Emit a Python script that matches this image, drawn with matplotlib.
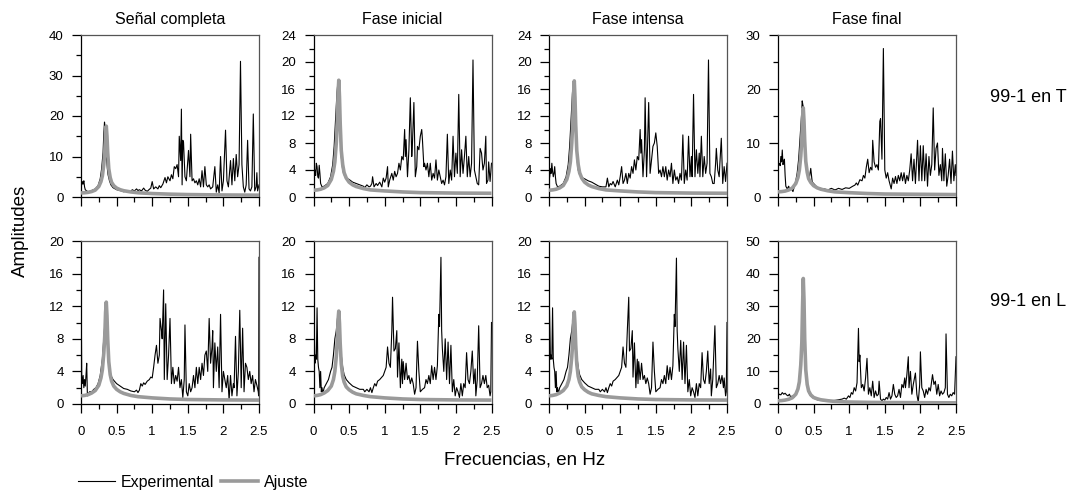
import matplotlib
matplotlib.use("Agg")
import matplotlib.pyplot as plt
from matplotlib.ticker import MultipleLocator
from matplotlib.lines import Line2D

plt.rcParams['font.family'] = ['Liberation Sans', 'DejaVu Sans']

# ---------------- data ----------------
col_titles = ["Señal completa", "Fase inicial", "Fase intensa", "Fase final"]
row_labels = ["99-1 en T", "99-1 en L"]
x_ticks = [0, 0.5, 1, 1.5, 2, 2.5]
x_ticklabels = ["0", "0.5", "1", "1.5", "2", "2.5"]
ymax_T = [40, 24, 24, 30]
ystep_T = [10, 4, 4, 10]
ymax_L = [20, 20, 20, 50]
ystep_L = [4, 4, 4, 10]

# fitted curves (Ajuste), sampled on a common frequency grid
fit_freq = [0, 0.05, 0.1, 0.15, 0.2, 0.25, 0.28, 0.3, 0.32, 0.335, 0.345, 0.355, 0.365, 0.375,
            0.39, 0.41, 0.43, 0.46, 0.5, 0.55, 0.6, 0.7, 0.8, 1.0, 1.25, 1.5, 2.0, 2.5]
fit_T1 = [1.0, 1.05, 1.15, 1.35, 1.7, 2.6, 3.8, 5.2, 8.0, 11.5, 15.5, 17.5, 15.0, 11.0,
          7.0, 4.8, 3.6, 2.8, 2.2, 1.8, 1.55, 1.25, 1.05, 0.85, 0.7, 0.6, 0.5, 0.45]
fit_T2 = [1.0, 1.05, 1.15, 1.35, 1.7, 2.6, 3.8, 5.2, 8.0, 11.4, 15.3, 17.3, 14.8, 10.9,
          6.9, 4.8, 3.6, 2.8, 2.2, 1.8, 1.55, 1.25, 1.05, 0.9, 0.75, 0.65, 0.58, 0.55]
fit_T3 = [1.0, 1.05, 1.15, 1.35, 1.7, 2.6, 3.8, 5.2, 8.0, 11.3, 15.2, 17.2, 14.7, 10.8,
          6.9, 4.8, 3.6, 2.8, 2.2, 1.8, 1.55, 1.25, 1.05, 0.9, 0.75, 0.65, 0.58, 0.55]
fit_T4 = [0.95, 1.0, 1.1, 1.3, 1.65, 2.5, 3.6, 5.0, 7.6, 10.9, 14.6, 16.5, 14.1, 10.4,
          6.6, 4.6, 3.4, 2.7, 2.1, 1.7, 1.45, 1.15, 0.95, 0.8, 0.65, 0.55, 0.5, 0.45]
fit_L1 = [1.0, 1.05, 1.15, 1.35, 1.65, 2.3, 3.2, 4.2, 6.2, 8.5, 11.2, 12.5, 10.8, 8.0,
          5.2, 3.6, 2.8, 2.2, 1.8, 1.5, 1.3, 1.05, 0.9, 0.75, 0.62, 0.55, 0.5, 0.48]
fit_L2 = [1.0, 1.05, 1.15, 1.35, 1.65, 2.2, 3.0, 4.0, 5.8, 7.9, 10.3, 11.4, 9.9, 7.4,
          4.9, 3.4, 2.7, 2.1, 1.75, 1.45, 1.25, 1.05, 0.9, 0.75, 0.62, 0.55, 0.5, 0.48]
fit_L3 = [1.0, 1.05, 1.15, 1.35, 1.65, 2.2, 3.0, 4.0, 5.8, 7.8, 10.2, 11.3, 9.8, 7.3,
          4.9, 3.4, 2.7, 2.1, 1.75, 1.45, 1.25, 1.05, 0.9, 0.75, 0.62, 0.55, 0.5, 0.48]
fit_L4 = [1.0, 1.05, 1.2, 1.45, 1.9, 3.0, 4.6, 6.8, 12.0, 19.0, 30.0, 38.5, 32.0, 20.0,
          10.5, 6.0, 4.0, 2.8, 2.0, 1.6, 1.3, 1.0, 0.8, 0.6, 0.5, 0.45, 0.4, 0.35]

# experimental spectra
freq_T1 = [0.0, 0.01, 0.02, 0.03, 0.04, 0.05, 0.06, 0.08, 0.1, 0.12, 0.15, 0.2, 0.24, 0.27, 0.29,
           0.31, 0.32, 0.33, 0.34, 0.35, 0.36, 0.37, 0.38, 0.40, 0.42, 0.45, 0.5, 0.55, 0.6, 0.65,
           0.7, 0.72, 0.75, 0.78, 0.8, 0.82, 0.85, 0.88, 0.9, 0.93, 0.96, 0.98, 1.0, 1.02, 1.05,
           1.08, 1.1, 1.12, 1.15, 1.18, 1.2, 1.22, 1.25, 1.27, 1.29, 1.31, 1.33, 1.35, 1.37, 1.38,
           1.40, 1.41, 1.42, 1.43, 1.44, 1.46, 1.48, 1.51, 1.53, 1.54, 1.56, 1.58, 1.6, 1.62, 1.64,
           1.66, 1.68, 1.70, 1.72, 1.74, 1.76, 1.78, 1.80, 1.82, 1.85, 1.88, 1.90, 1.92, 1.94, 1.96,
           1.98, 2.0, 2.03, 2.05, 2.07, 2.10, 2.12, 2.14, 2.16, 2.18, 2.20, 2.22, 2.24, 2.26, 2.28,
           2.30, 2.32, 2.34, 2.36, 2.38, 2.40, 2.42, 2.44, 2.46, 2.47, 2.48, 2.5]
amp_T1 = [3.5, 3.0, 3.8, 3.2, 4.0, 2.5, 1.8, 1.5, 1.3, 1.4, 1.6, 2.0, 2.8, 4.5, 7.0,
          11.0, 15.5, 18.5, 17.0, 12.0, 9.5, 7.0, 5.5, 4.0, 3.0, 2.3, 1.8, 1.6, 1.3, 1.5,
          1.4, 1.8, 1.5, 2.0, 1.6, 1.8, 1.5, 2.2, 1.7, 1.4, 1.9, 2.2, 3.8, 2.0, 2.5,
          2.0, 2.8, 2.3, 3.2, 4.8, 3.5, 5.0, 4.0, 5.5, 4.5, 7.5, 7.0, 8.0, 5.0, 15.0,
          9.0, 21.7, 3.0, 14.0, 13.5, 5.0, 4.0, 11.5, 5.0, 15.5, 4.0, 4.5, 3.5, 4.0, 3.0,
          4.5, 2.5, 6.5, 2.5, 7.5, 3.0, 2.5, 3.0, 2.0, 2.5, 7.5, 1.2, 3.0, 1.0, 10.0,
          1.5, 4.0, 16.5, 4.0, 2.5, 9.0, 3.0, 9.5, 4.0, 10.5, 5.0, 8.0, 33.5, 8.0, 2.5,
          1.2, 3.0, 14.0, 2.0, 1.5, 2.5, 20.5, 1.5, 2.5, 6.0, 1.5, 3.0]

freq_T2 = [0.0, 0.01, 0.02, 0.03, 0.04, 0.05, 0.06, 0.07, 0.08, 0.09, 0.1, 0.12, 0.15, 0.2, 0.24,
           0.27, 0.29, 0.31, 0.33, 0.345, 0.355, 0.365, 0.375, 0.39, 0.41, 0.43, 0.46, 0.5, 0.55,
           0.6, 0.65, 0.7, 0.72, 0.75, 0.78, 0.8, 0.82, 0.83, 0.85, 0.88, 0.9, 0.93, 0.96, 0.98,
           1.0, 1.02, 1.04, 1.05, 1.07, 1.1, 1.12, 1.14, 1.16, 1.18, 1.2, 1.22, 1.24, 1.26, 1.28,
           1.29, 1.30, 1.32, 1.34, 1.36, 1.38, 1.39, 1.41, 1.43, 1.45, 1.46, 1.48, 1.50, 1.52,
           1.53, 1.55, 1.56, 1.58, 1.60, 1.62, 1.64, 1.66, 1.68, 1.70, 1.72, 1.74, 1.76, 1.78,
           1.80, 1.82, 1.84, 1.86, 1.88, 1.90, 1.92, 1.94, 1.96, 1.98, 2.0, 2.02, 2.04, 2.06,
           2.08, 2.10, 2.12, 2.14, 2.16, 2.18, 2.20, 2.22, 2.24, 2.26, 2.28, 2.30, 2.32, 2.34,
           2.36, 2.38, 2.40, 2.42, 2.43, 2.45, 2.46, 2.48, 2.5]
amp_T2 = [3.0, 3.5, 4.0, 3.2, 5.0, 4.5, 3.0, 2.8, 4.7, 3.5, 2.0, 1.5, 1.6, 2.0, 3.0,
          4.8, 7.5, 11.5, 15.5, 17.3, 17.0, 12.5, 9.0, 6.0, 4.0, 3.3, 2.8, 2.6, 2.2,
          2.0, 1.8, 1.6, 1.4, 1.8, 1.5, 1.6, 2.0, 3.0, 1.5, 2.0, 1.7, 2.2, 1.5, 2.8,
          2.2, 2.8, 4.5, 1.5, 2.5, 3.5, 2.5, 3.8, 3.0, 3.5, 5.0, 4.0, 6.0, 5.5, 10.0,
          6.0, 8.5, 3.0, 7.0, 14.7, 6.0, 8.0, 14.0, 3.0, 4.5, 7.5, 7.0, 9.0, 10.0,
          8.5, 4.5, 5.0, 4.0, 5.0, 3.0, 5.0, 2.5, 3.5, 2.8, 5.5, 2.5, 4.0, 3.0,
          2.0, 2.5, 1.8, 3.0, 9.3, 2.0, 4.0, 2.5, 9.0, 3.0, 6.5, 3.5, 15.2, 3.0,
          7.0, 3.5, 6.0, 9.0, 3.0, 6.0, 3.0, 5.0, 20.3, 4.0, 3.0, 2.0, 1.8, 7.2,
          6.5, 4.0, 5.0, 9.0, 2.0, 2.5, 5.2, 2.3, 5.0]

freq_T3 = [0.0, 0.01, 0.02, 0.03, 0.04, 0.05, 0.06, 0.07, 0.08, 0.09, 0.1, 0.12, 0.15, 0.2, 0.24,
           0.27, 0.29, 0.31, 0.33, 0.345, 0.355, 0.365, 0.375, 0.39, 0.41, 0.43, 0.46, 0.5, 0.55,
           0.6, 0.65, 0.7, 0.75, 0.8, 0.82, 0.84, 0.86, 0.88, 0.9, 0.93, 0.96, 0.98, 1.0, 1.02,
           1.04, 1.06, 1.08, 1.1, 1.12, 1.14, 1.16, 1.18, 1.2, 1.22, 1.24, 1.26, 1.28, 1.29, 1.30,
           1.32, 1.34, 1.35, 1.37, 1.38, 1.40, 1.42, 1.44, 1.46, 1.48, 1.50, 1.52, 1.54, 1.56,
           1.58, 1.60, 1.62, 1.64, 1.66, 1.68, 1.70, 1.72, 1.74, 1.76, 1.78, 1.80, 1.82, 1.84,
           1.86, 1.88, 1.90, 1.92, 1.94, 1.96, 1.98, 2.0, 2.01, 2.03, 2.05, 2.07, 2.09, 2.11,
           2.12, 2.14, 2.16, 2.18, 2.20, 2.22, 2.24, 2.26, 2.28, 2.30, 2.32, 2.34, 2.35, 2.37,
           2.39, 2.40, 2.42, 2.44, 2.46, 2.48, 2.5]
amp_T3 = [2.5, 3.0, 4.2, 3.5, 5.0, 3.8, 3.0, 3.5, 4.5, 3.0, 2.0, 1.5, 1.6, 2.0, 3.0,
          4.8, 7.5, 11.5, 15.5, 17.2, 16.8, 12.5, 9.0, 6.0, 4.0, 3.3, 2.9, 2.7, 2.4,
          2.2, 1.9, 1.6, 1.5, 1.5, 2.8, 1.5, 2.0, 1.8, 2.3, 1.5, 2.5, 1.8, 3.0, 4.5,
          2.0, 2.5, 3.5, 2.0, 3.5, 2.8, 4.5, 3.5, 5.5, 4.0, 6.0, 5.5, 10.0, 6.5, 8.5,
          3.0, 7.0, 14.7, 3.0, 6.0, 14.0, 3.5, 5.5, 7.5, 8.0, 9.5, 7.5, 3.5, 4.0,
          3.0, 4.5, 3.0, 4.5, 2.5, 4.0, 3.0, 5.0, 2.0, 4.0, 2.5, 3.0, 2.0, 3.5,
          2.5, 9.2, 2.0, 4.0, 2.5, 9.0, 3.0, 6.0, 3.0, 15.2, 3.0, 7.0, 3.5, 6.5,
          3.0, 9.0, 3.0, 6.0, 3.5, 5.0, 20.3, 3.5, 3.0, 2.0, 2.0, 5.0, 7.2, 4.0,
          3.0, 5.0, 8.7, 2.0, 4.5, 2.3, 5.0]

freq_T4 = [0.0, 0.01, 0.02, 0.03, 0.04, 0.05, 0.06, 0.07, 0.08, 0.09, 0.1, 0.11, 0.13, 0.15, 0.17,
           0.19, 0.21, 0.23, 0.25, 0.27, 0.29, 0.31, 0.33, 0.34, 0.35, 0.36, 0.37, 0.38, 0.40,
           0.42, 0.44, 0.46, 0.48, 0.5, 0.55, 0.6, 0.65, 0.7, 0.75, 0.8, 0.85, 0.9, 0.95, 1.0,
           1.05, 1.08, 1.1, 1.12, 1.15, 1.18, 1.2, 1.22, 1.24, 1.26, 1.28, 1.30, 1.32, 1.33, 1.35,
           1.37, 1.39, 1.41, 1.43, 1.44, 1.46, 1.48, 1.50, 1.52, 1.54, 1.56, 1.59, 1.61, 1.63,
           1.65, 1.67, 1.69, 1.71, 1.73, 1.75, 1.77, 1.79, 1.81, 1.83, 1.85, 1.87, 1.89, 1.91,
           1.93, 1.96, 1.98, 2.00, 2.02, 2.04, 2.06, 2.08, 2.10, 2.12, 2.14, 2.16, 2.18, 2.20,
           2.22, 2.24, 2.26, 2.28, 2.30, 2.31, 2.33, 2.35, 2.37, 2.39, 2.41, 2.43, 2.45, 2.47,
           2.49, 2.5]
amp_T4 = [6.5, 6.0, 6.2, 5.8, 7.5, 6.5, 8.7, 6.0, 6.5, 7.0, 4.0, 2.0, 1.5, 2.0, 1.2,
          1.5, 1.0, 2.0, 3.0, 4.5, 7.0, 11.0, 15.0, 17.8, 17.0, 16.5, 11.0, 8.0, 6.0,
          4.0, 3.5, 5.3, 2.8, 2.5, 1.8, 1.6, 1.5, 1.3, 1.6, 1.3, 1.6, 1.4, 1.7, 1.6,
          2.0, 2.2, 2.6, 2.2, 3.2, 3.0, 4.0, 3.5, 5.5, 7.0, 4.5, 5.5, 5.0, 10.5, 6.5,
          5.5, 6.0, 5.0, 14.0, 14.5, 7.0, 27.5, 5.0, 3.5, 4.5, 3.0, 1.5, 3.5, 2.5,
          3.8, 2.5, 4.0, 3.0, 4.5, 3.0, 4.5, 2.5, 4.0, 3.0, 5.0, 8.0, 3.0, 7.0,
          2.5, 10.5, 3.0, 9.5, 3.0, 9.5, 3.0, 8.0, 2.0, 7.5, 4.0, 6.0, 16.5, 5.0,
          9.0, 10.0, 4.0, 6.0, 3.0, 9.0, 3.0, 8.0, 2.0, 4.0, 7.0, 2.5, 8.5, 3.0,
          6.0, 4.0]

freq_L1 = [0.0, 0.01, 0.02, 0.03, 0.04, 0.05, 0.06, 0.07, 0.08, 0.09, 0.1, 0.12, 0.15, 0.18, 0.21,
           0.24, 0.27, 0.3, 0.32, 0.34, 0.35, 0.36, 0.37, 0.38, 0.40, 0.42, 0.45, 0.5, 0.55, 0.6,
           0.65, 0.7, 0.75, 0.78, 0.8, 0.82, 0.84, 0.86, 0.88, 0.9, 0.93, 0.96, 0.98, 1.0, 1.02,
           1.04, 1.06, 1.08, 1.10, 1.11, 1.13, 1.14, 1.16, 1.17, 1.19, 1.21, 1.23, 1.25, 1.27,
           1.29, 1.31, 1.33, 1.35, 1.37, 1.39, 1.41, 1.43, 1.45, 1.46, 1.48, 1.50, 1.52, 1.54,
           1.56, 1.58, 1.60, 1.62, 1.64, 1.66, 1.68, 1.70, 1.72, 1.74, 1.76, 1.78, 1.80, 1.82,
           1.84, 1.85, 1.86, 1.88, 1.90, 1.92, 1.94, 1.96, 1.98, 2.00, 2.02, 2.04, 2.06, 2.08,
           2.10, 2.12, 2.14, 2.15, 2.17, 2.19, 2.21, 2.23, 2.25, 2.27, 2.29, 2.31, 2.33, 2.35,
           2.37, 2.39, 2.41, 2.43, 2.45, 2.47, 2.49, 2.495, 2.5]
amp_L1 = [16.7, 3.5, 2.5, 3.5, 2.0, 3.0, 2.2, 3.5, 5.0, 1.0, 1.2, 1.5, 1.5, 1.8, 2.0,
          2.5, 3.5, 5.5, 8.0, 10.5, 9.5, 9.0, 8.0, 6.0, 4.5, 3.5, 3.0, 2.5, 2.2, 1.9,
          1.8, 1.6, 1.5, 1.7, 1.4, 1.7, 2.5, 2.2, 2.6, 2.4, 2.8, 3.0, 3.3, 3.2, 4.5,
          6.0, 7.2, 5.0, 6.0, 10.5, 9.0, 8.0, 14.0, 3.0, 12.3, 3.0, 6.0, 10.5, 2.5,
          4.5, 2.5, 3.5, 2.8, 4.5, 2.0, 3.0, 0.8, 3.0, 9.7, 1.5, 1.0, 2.5, 1.5,
          2.0, 3.5, 2.0, 4.5, 2.5, 4.5, 3.0, 5.0, 3.5, 6.0, 6.5, 4.0, 10.5, 5.0,
          7.0, 9.0, 2.0, 7.5, 4.0, 7.0, 2.0, 11.0, 1.5, 4.0, 3.0, 2.0, 3.5, 0.5,
          3.5, 1.0, 2.5, 2.0, 8.3, 1.0, 4.0, 11.5, 2.0, 9.3, 1.5, 5.0, 4.5, 3.0,
          4.0, 2.5, 3.5, 1.5, 3.0, 2.3, 1.5, 1.0, 18.0]

freq_L2 = [0.0, 0.005, 0.02, 0.03, 0.04, 0.05, 0.06, 0.07, 0.08, 0.09, 0.10, 0.11, 0.12, 0.13, 0.15,
           0.18, 0.21, 0.24, 0.26, 0.28, 0.30, 0.32, 0.34, 0.355, 0.365, 0.375, 0.39, 0.41, 0.43,
           0.46, 0.5, 0.55, 0.6, 0.65, 0.7, 0.72, 0.75, 0.78, 0.8, 0.82, 0.84, 0.86, 0.88, 0.9,
           0.93, 0.96, 0.98, 1.0, 1.02, 1.04, 1.06, 1.08, 1.10, 1.11, 1.13, 1.15, 1.17, 1.18, 1.20,
           1.22, 1.24, 1.25, 1.26, 1.28, 1.30, 1.32, 1.34, 1.36, 1.38, 1.40, 1.42, 1.44, 1.46,
           1.48, 1.50, 1.53, 1.56, 1.58, 1.60, 1.62, 1.64, 1.66, 1.68, 1.70, 1.72, 1.74, 1.76,
           1.77, 1.79, 1.80, 1.81, 1.83, 1.85, 1.87, 1.89, 1.91, 1.93, 1.95, 1.97, 1.99, 2.01,
           2.03, 2.05, 2.07, 2.09, 2.11, 2.13, 2.15, 2.17, 2.19, 2.21, 2.23, 2.25, 2.27, 2.28,
           2.30, 2.32, 2.34, 2.36, 2.38, 2.40, 2.42, 2.44, 2.46, 2.48, 2.49, 2.5]
amp_L2 = [5.0, 12.5, 5.0, 6.0, 5.5, 11.8, 5.5, 4.5, 4.0, 2.0, 4.0, 1.5, 2.0, 1.3, 2.0,
          2.5, 3.0, 4.0, 4.5, 6.0, 8.0, 9.0, 10.8, 11.0, 10.0, 8.0, 6.0, 4.5, 3.6,
          3.0, 2.6, 2.2, 2.0, 1.8, 1.8, 1.5, 1.8, 1.5, 2.0, 1.4, 2.0, 2.5, 2.2, 2.8,
          3.0, 3.3, 3.5, 4.0, 4.5, 7.0, 5.0, 4.5, 9.0, 13.1, 6.5, 6.8, 9.0, 3.3, 7.5,
          2.0, 5.5, 2.5, 5.2, 3.0, 5.0, 3.0, 3.5, 2.5, 3.2, 2.5, 1.2, 2.0, 7.7,
          4.0, 1.5, 1.8, 2.0, 3.0, 2.5, 3.5, 2.5, 4.7, 3.0, 4.5, 3.0, 4.7, 11.0,
          9.5, 18.0, 9.0, 6.8, 4.0, 8.0, 3.0, 7.6, 2.5, 7.2, 1.5, 3.0, 1.0, 2.0,
          1.5, 0.8, 2.5, 1.0, 2.5, 2.0, 6.3, 3.0, 2.5, 4.0, 6.5, 2.5, 4.3, 1.0,
          3.0, 9.6, 2.0, 2.5, 3.5, 2.5, 3.5, 2.0, 2.3, 1.0, 1.5, 10.0]

freq_L3 = [0.0, 0.005, 0.02, 0.03, 0.04, 0.05, 0.06, 0.07, 0.08, 0.09, 0.10, 0.11, 0.12, 0.13, 0.15,
           0.18, 0.21, 0.24, 0.26, 0.28, 0.30, 0.32, 0.34, 0.355, 0.365, 0.375, 0.39, 0.41, 0.43,
           0.46, 0.5, 0.55, 0.6, 0.65, 0.7, 0.72, 0.75, 0.78, 0.8, 0.82, 0.84, 0.86, 0.88, 0.9,
           0.93, 0.96, 0.98, 1.0, 1.02, 1.04, 1.06, 1.08, 1.10, 1.12, 1.13, 1.15, 1.17, 1.18, 1.20,
           1.22, 1.24, 1.25, 1.26, 1.28, 1.30, 1.32, 1.34, 1.36, 1.38, 1.40, 1.42, 1.44, 1.46,
           1.48, 1.50, 1.53, 1.56, 1.58, 1.60, 1.62, 1.64, 1.66, 1.68, 1.70, 1.72, 1.74, 1.76,
           1.77, 1.79, 1.80, 1.81, 1.83, 1.85, 1.87, 1.89, 1.91, 1.93, 1.95, 1.97, 1.99, 2.01,
           2.03, 2.05, 2.07, 2.09, 2.11, 2.13, 2.15, 2.17, 2.19, 2.21, 2.23, 2.25, 2.27, 2.28,
           2.30, 2.33, 2.35, 2.37, 2.39, 2.41, 2.43, 2.45, 2.46, 2.48, 2.49, 2.5]
amp_L3 = [5.0, 12.5, 5.5, 6.0, 5.5, 11.8, 5.5, 4.5, 4.0, 2.0, 4.0, 1.5, 2.0, 1.3, 2.0,
          2.5, 3.0, 4.0, 4.5, 6.0, 8.0, 9.0, 10.7, 11.0, 10.0, 8.0, 6.0, 4.5, 3.6,
          3.0, 2.6, 2.2, 2.0, 1.8, 1.8, 1.5, 1.8, 1.5, 2.0, 1.4, 2.0, 2.5, 2.2, 2.8,
          3.0, 3.3, 3.5, 4.0, 4.5, 7.0, 5.0, 4.5, 9.0, 13.1, 6.5, 6.8, 9.0, 3.3, 7.5,
          2.0, 5.5, 2.5, 5.2, 3.0, 5.0, 3.0, 3.5, 2.5, 3.2, 2.5, 1.2, 2.0, 7.6,
          4.0, 1.5, 1.8, 2.0, 3.0, 2.5, 3.5, 2.5, 4.7, 3.0, 4.5, 3.0, 4.7, 11.0,
          9.5, 17.9, 9.0, 6.8, 4.0, 7.8, 3.0, 7.6, 2.5, 7.2, 1.5, 3.0, 1.0, 2.0,
          1.5, 0.8, 2.5, 1.0, 2.5, 2.0, 6.3, 3.0, 2.5, 4.0, 6.5, 2.5, 4.3, 1.0,
          3.0, 9.6, 2.0, 2.5, 3.5, 2.5, 3.5, 2.0, 3.2, 1.0, 1.5, 10.0]

freq_L4 = [0.0, 0.02, 0.04, 0.06, 0.08, 0.10, 0.12, 0.14, 0.16, 0.18, 0.20, 0.22, 0.25, 0.28, 0.30,
           0.32, 0.335, 0.345, 0.355, 0.365, 0.375, 0.39, 0.41, 0.43, 0.46, 0.5, 0.55, 0.6, 0.65,
           0.7, 0.75, 0.8, 0.85, 0.9, 0.93, 0.96, 0.99, 1.01, 1.03, 1.05, 1.07, 1.09, 1.11, 1.13,
           1.14, 1.15, 1.17, 1.19, 1.21, 1.23, 1.25, 1.27, 1.29, 1.31, 1.33, 1.35, 1.37, 1.39,
           1.41, 1.42, 1.44, 1.46, 1.48, 1.50, 1.52, 1.54, 1.56, 1.58, 1.60, 1.62, 1.64, 1.66,
           1.68, 1.70, 1.72, 1.74, 1.76, 1.78, 1.79, 1.81, 1.83, 1.84, 1.86, 1.88, 1.90, 1.93,
           1.95, 1.97, 1.99, 2.00, 2.02, 2.04, 2.06, 2.08, 2.10, 2.12, 2.14, 2.17, 2.19, 2.21,
           2.23, 2.25, 2.27, 2.29, 2.31, 2.33, 2.35, 2.36, 2.38, 2.40, 2.42, 2.44, 2.46, 2.48,
           2.5]
amp_L4 = [2.5, 3.0, 2.8, 3.5, 3.0, 3.3, 2.8, 2.5, 3.0, 2.0, 2.5, 2.0, 3.0, 5.0, 8.0,
          14.0, 22.0, 32.0, 38.0, 33.0, 21.0, 11.0, 6.0, 3.5, 2.5, 1.8, 1.3, 1.1, 1.0,
          0.9, 1.0, 1.1, 1.3, 1.5, 1.8, 1.5, 2.5, 2.0, 3.5, 3.0, 5.0, 4.0, 6.5, 23.2,
          13.0, 15.0, 5.0, 6.0, 4.0, 8.0, 14.0, 3.0, 5.0, 2.5, 7.0, 2.0, 4.0, 2.5,
          3.0, 7.0, 1.5, 1.0, 1.5, 1.2, 2.0, 1.5, 3.5, 1.5, 2.5, 6.0, 3.0, 2.0,
          2.5, 4.5, 2.0, 6.0, 5.0, 8.0, 5.0, 9.0, 14.5, 5.0, 10.0, 3.0, 6.0, 9.5,
          3.0, 0.5, 6.0, 16.0, 5.0, 4.0, 2.0, 4.5, 3.0, 5.0, 4.0, 9.0, 6.0, 7.0,
          3.0, 6.0, 2.5, 4.0, 3.0, 3.5, 5.0, 21.5, 3.0, 2.0, 3.0, 2.5, 3.5, 3.0,
          14.5]

# ---------------- figure ----------------
fig = plt.figure(figsize=(10.78, 4.95), dpi=100)
W, H = 1078.0, 495.0
lefts = [81, 313.5, 549, 778]
width = 178
rows = [(35, 197), (241, 404)]

exp_sets = [[(freq_T1, amp_T1), (freq_T2, amp_T2), (freq_T3, amp_T3), (freq_T4, amp_T4)],
            [(freq_L1, amp_L1), (freq_L2, amp_L2), (freq_L3, amp_L3), (freq_L4, amp_L4)]]
fit_sets = [[fit_T1, fit_T2, fit_T3, fit_T4], [fit_L1, fit_L2, fit_L3, fit_L4]]
ymaxs = [ymax_T, ymax_L]
ysteps = [ystep_T, ystep_L]

for r, (top, bot) in enumerate(rows):
    for c in range(4):
        ax = fig.add_axes([lefts[c] / W, (H - bot) / H, width / W, (bot - top) / H])
        fx, fy = exp_sets[r][c]
        ax.plot(fx, fy, color='black', lw=0.8, zorder=2)
        ax.plot(fit_freq, fit_sets[r][c], color='#9a9a9a', lw=2.6, zorder=3,
                solid_capstyle='butt')
        ax.set_xlim(0, 2.5)
        ax.set_ylim(0, ymaxs[r][c])
        ax.yaxis.set_major_locator(MultipleLocator(ysteps[r][c]))
        ax.yaxis.set_minor_locator(MultipleLocator(ysteps[r][c] / 2))
        ax.set_xticks(x_ticks)
        ax.xaxis.set_minor_locator(MultipleLocator(0.25))
        if r == 1:
            ax.set_xticklabels(x_ticklabels)
        else:
            ax.set_xticklabels([])
        ax.tick_params(axis='both', which='major', direction='out', length=6.5, width=0.9,
                       labelsize=9.5, colors='black')
        ax.tick_params(axis='both', which='minor', direction='out', length=3.5, width=0.9)
        ax.tick_params(axis='y', which='major', pad=6)
        ax.tick_params(axis='x', which='major', pad=9)
        for s in ['left', 'bottom']:
            ax.spines[s].set_color('black')
            ax.spines[s].set_linewidth(0.9)
        for s in ['top', 'right']:
            ax.spines[s].set_color('#555555')
            ax.spines[s].set_linewidth(0.9)
        if r == 0:
            ax.set_title(col_titles[c], fontsize=11.5, pad=8)

fig.text(1028 / W, 1 - 97 / H, row_labels[0], fontsize=13, ha='center', va='center')
fig.text(1028 / W, 1 - 302 / H, row_labels[1], fontsize=13, ha='center', va='center')
fig.text(20 / W, 1 - 231 / H, "Amplitudes", fontsize=13.5, rotation=90, ha='center', va='center')
fig.text(525 / W, 1 - 460 / H, "Frecuencias, en Hz", fontsize=13.5, ha='center', va='center')

handles = [Line2D([], [], color='black', lw=0.8), Line2D([], [], color='#9a9a9a', lw=2.6)]
fig.legend(handles, ["Experimental", "Ajuste"], loc='center left',
           bbox_to_anchor=(78 / W, 1 - 482 / H), ncol=2, frameon=False, fontsize=11.5,
           handlelength=2.3, handletextpad=0.4, columnspacing=0.4, borderaxespad=0,
           borderpad=0)

fig.savefig("out.png", dpi=100)
